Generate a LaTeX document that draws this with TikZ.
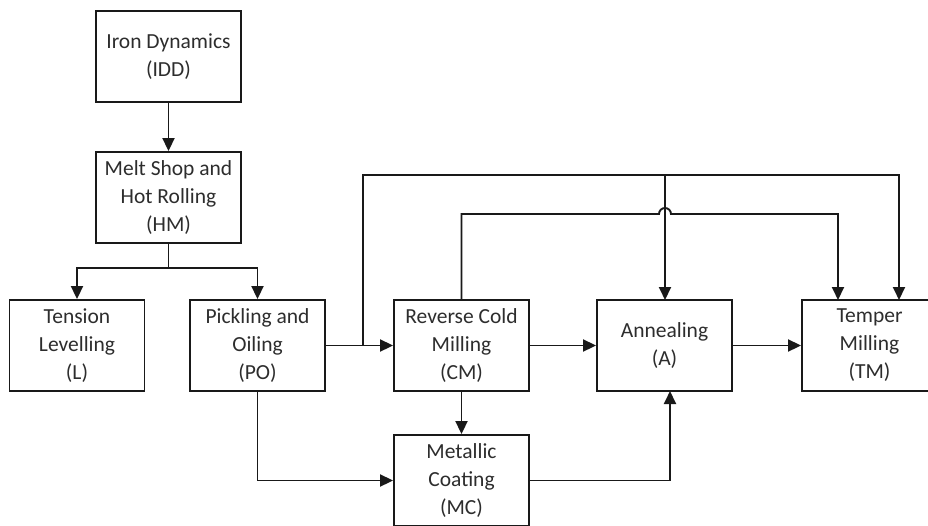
\documentclass[tikz,border=0pt]{standalone}
\usepackage{fontspec}
\setmainfont{Carlito}
\usetikzlibrary{arrows.meta}
\definecolor{txt}{RGB}{45,45,45}
\definecolor{ln}{RGB}{25,25,25}
\tikzset{
  box/.style={draw=ln, line width=1.9pt, minimum width=135pt, minimum height=91pt,
    inner sep=0pt, align=center, text=txt, font=\fontsize{21.5}{28}\selectfont},
  wbox/.style={box, minimum width=145pt},
  conn/.style={draw=ln, line width=1.9pt},
  arr/.style={conn, -{Triangle[length=13pt,width=12pt]}}
}
\begin{document}
\begin{tikzpicture}[x=1pt,y=-1pt]
\clip (0,0) rectangle (928,525);
\fill[white] (0,0) rectangle (928,525);
\node[wbox] (idd) at (168.5,56.5) {Iron Dynamics\\(IDD)};
\node[wbox] (hm) at (168.5,197.5) {Melt Shop and\\Hot Rolling\\(HM)};
\node[box] (l) at (77,345.5) {Tension\\Levelling\\(L)};
\node[box] (po) at (257.5,345.5) {Pickling and\\Oiling\\(PO)};
\node[box] (cm) at (461.5,345.5) {Reverse Cold\\Milling\\(CM)};
\node[box] (a) at (664.5,345.5) {Annealing\\(A)};
\node[box] (tm) at (869.5,345.5) {Temper\\Milling\\(TM)};
\node[box] (mc) at (461.5,480.5) {Metallic\\Coating\\(MC)};
% coordinates
\coordinate (hmj) at (168.5,268);
\coordinate (br) at (363,345.5);
\coordinate (ain) at (665,300);
\coordinate (aout) at (670,391);
\coordinate (tmin1) at (838,300);
\coordinate (tmin2) at (899,300);
\coordinate (topj) at (665,175);
% connectors
\draw[arr] (idd.south) -- (hm.north);
\draw[conn] (hm.south) -- (hmj);
\draw[arr] (hmj) -| (l.north);
\draw[arr] (hmj) -| (po.north);
\draw[arr] (po.east) -- (cm.west);
\draw[arr] (br) -- (363,175) -| (tmin2);
\draw[arr] (topj) -- (ain);
\draw[arr] (cm.north) -- (461.5,214) -- (659,214) arc[start angle=180,end angle=0,radius=6pt] -| (tmin1);
\draw[arr] (cm.east) -- (a.west);
\draw[arr] (a.east) -- (tm.west);
\draw[arr] (cm.south) -- (mc.north);
\draw[arr] (po.south) |- (mc.west);
\draw[arr] (mc.east) -| (aout);
\end{tikzpicture}
\end{document}
